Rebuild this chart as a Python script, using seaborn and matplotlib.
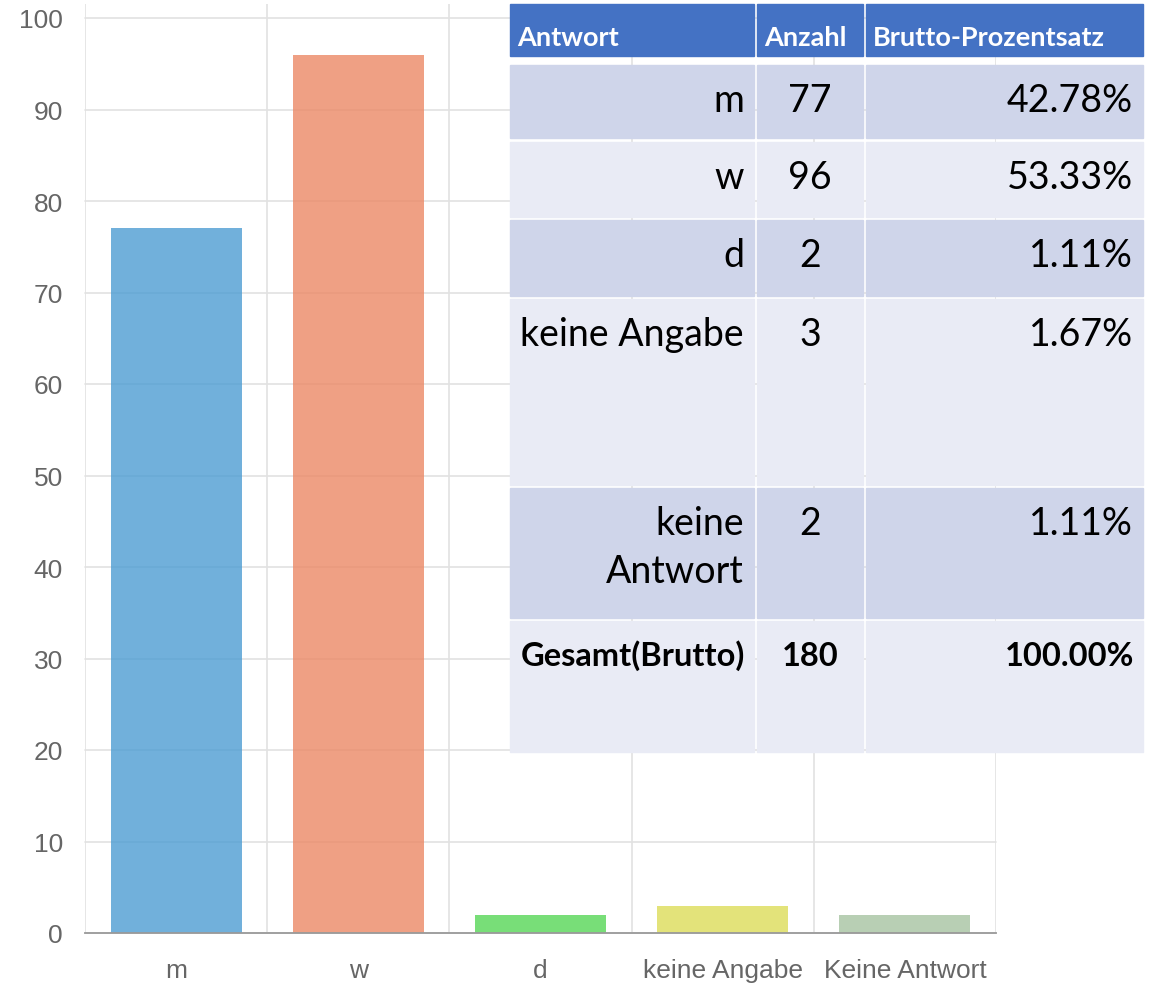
import numpy as np
import pandas as pd
import seaborn as sns
import matplotlib.pyplot as plt
from matplotlib.patches import Rectangle

# -------------------------------------------------
# Data
# -------------------------------------------------
categories = ["m", "w", "d", "keine Angabe", "Keine Antwort"]
counts = [77, 96, 2, 3, 2]

table_labels = ["m", "w", "d", "keine Angabe", "keine\nAntwort"]
table_counts = [77, 96, 2, 3, 2]
table_pct = [42.78, 53.33, 1.11, 1.67, 1.11]
total_label = "Gesamt(Brutto)"
total_count = 180
total_pct = 100.00
headers = ["Antwort", "Anzahl", "Brutto-Prozentsatz"]

bar_colors = ["#4d9dd3", "#ec8865", "#56d656", "#dddd59", "#a6c4a1"]

# -------------------------------------------------
# Figure / bar chart
# -------------------------------------------------
sns.set_style("white")
plt.rcParams["font.family"] = ["Liberation Sans", "DejaVu Sans"]

W, H = 1155, 987
fig = plt.figure(figsize=(W / 100, H / 100), dpi=100)

px_unit = (934 - 19) / 100.0
top_px = 934 - 101.5 * px_unit
ax = fig.add_axes([85 / W, (H - 934) / H, (996 - 85) / W, (934 - top_px) / H])

df = pd.DataFrame({"cat": categories, "n": counts})
sns.barplot(data=df, x="cat", y="n", hue="cat", order=categories,
            palette=bar_colors, saturation=1, width=0.72, alpha=0.8,
            legend=False, edgecolor="none", ax=ax, zorder=3)

ax.set_xlim(-0.5, len(categories) - 0.5)
ax.set_ylim(0, 101.5)
ax.set_yticks(np.arange(0, 101, 10))
ax.set_xticks(range(len(categories)))
ax.set_xticks(np.arange(-0.5, len(categories), 1.0), minor=True)
ax.set_xlabel("")
ax.set_ylabel("")

grid_col = "#e2e2e2"
ax.grid(axis="y", which="major", color=grid_col, lw=1.2, zorder=0)
ax.grid(axis="x", which="minor", color=grid_col, lw=1.2, zorder=0)
for l in ax.get_xgridlines() + ax.get_ygridlines():
    l.set_clip_on(False)

ax.tick_params(axis="y", which="major", length=14.4, width=1.2, color=grid_col,
               pad=1.5, labelsize=19, labelcolor="#666666")
ax.tick_params(axis="x", which="major", length=0, pad=18,
               labelsize=19, labelcolor="#666666")
ax.tick_params(axis="x", which="minor", length=15, width=1.2, color=grid_col)

for s in ["left", "right", "top"]:
    ax.spines[s].set_visible(False)
ax.spines["bottom"].set_color("#9a9a9a")
ax.spines["bottom"].set_linewidth(1.3)
ax.spines["bottom"].set_zorder(4)

# -------------------------------------------------
# Table overlay
# -------------------------------------------------
tax = fig.add_axes([0, 0, 1, 1])
tax.set_xlim(0, W)
tax.set_ylim(H, 0)
tax.axis("off")

cols = [(510, 754), (757, 863), (866, 1143)]
rows = [(5, 57), (66, 139), (143, 218), (221, 297), (300, 486), (489, 619), (622, 753)]
header_col = "#4472c4"
dark_col = "#cfd5ea"
light_col = "#e9ebf5"
tfont = ["Lato", "DejaVu Sans"]

for j, (x0, x1) in enumerate(cols):
    y0, y1 = rows[0]
    tax.add_patch(Rectangle((x0, y0), x1 - x0, y1 - y0, color=header_col))
    tax.text(x0 + 7, y0 + 33, headers[j], color="white", fontsize=19.5,
             fontweight="bold", family=tfont, va="center", ha="left")

body = list(zip(table_labels, table_counts, table_pct))
for i, (lab, n, p) in enumerate(body):
    y0, y1 = rows[i + 1]
    fc = dark_col if i % 2 == 0 else light_col
    for (x0, x1) in cols:
        tax.add_patch(Rectangle((x0, y0), x1 - x0, y1 - y0, color=fc))
    ty = y0 + 35
    # label lines one by one so multi-line labels keep the row's first line
    for k, line in enumerate(lab.split("\n")):
        tax.text(cols[0][1] - 10, ty + 48 * k, line, fontsize=27, color="black",
                 family=tfont, va="center", ha="right")
    tax.text((cols[1][0] + cols[1][1]) / 2, ty, str(n), fontsize=27,
             color="black", family=tfont, va="center", ha="center")
    tax.text(cols[2][1] - 10, ty, f"{p:.2f}%", fontsize=27, color="black",
             family=tfont, va="center", ha="right")

y0, y1 = rows[-1]
for (x0, x1) in cols:
    tax.add_patch(Rectangle((x0, y0), x1 - x0, y1 - y0, color=light_col))
ty = y0 + 34
tax.text(cols[0][1] - 9, ty, total_label, fontsize=23.5, fontweight="bold",
         color="black", family=tfont, va="center", ha="right")
tax.text((cols[1][0] + cols[1][1]) / 2, ty, str(total_count), fontsize=23.5,
         fontweight="bold", color="black", family=tfont, va="center", ha="center")
tax.text(cols[2][1] - 9, ty, f"{total_pct:.2f}%", fontsize=23.5,
         fontweight="bold", color="black", family=tfont, va="center", ha="right")

fig.savefig("out.png", dpi=100)
